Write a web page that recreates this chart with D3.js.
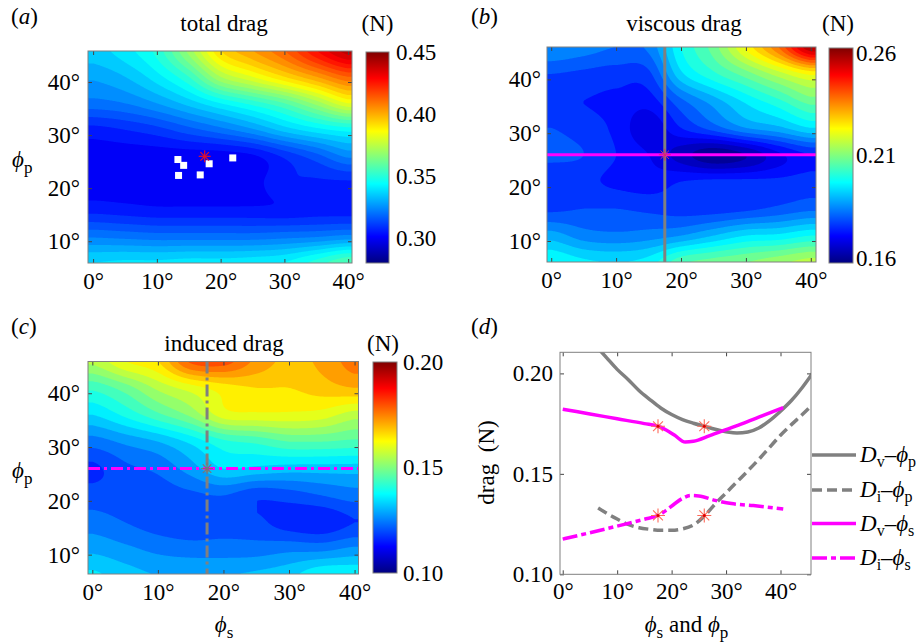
<!DOCTYPE html>
<html><head><meta charset="utf-8">
<script src="https://cdn.jsdelivr.net/npm/d3@7"></script>
<style>body{margin:0;background:#fff}</style>
</head><body>
<svg id="c" width="921" height="644"></svg>
<script>
// ---------------- DATA ----------------
const phiS = [0,5,10,15,20,25,30,35,40];          // columns
const phiP = [6,11,16,21,26,31,36,41,46];         // rows (bottom -> top)
const totalDrag = [
  [0.340,0.341,0.341,0.342,0.342,0.343,0.345,0.352,0.360],
  [0.324,0.323,0.322,0.322,0.322,0.322,0.323,0.324,0.326],
  [0.308,0.307,0.306,0.306,0.306,0.306,0.306,0.307,0.307],
  [0.302,0.302,0.302,0.302,0.302,0.303,0.309,0.309,0.309],
  [0.302,0.302,0.302,0.302,0.302,0.304,0.311,0.318,0.326],
  [0.308,0.310,0.313,0.318,0.323,0.329,0.337,0.343,0.347],
  [0.323,0.325,0.330,0.337,0.345,0.352,0.360,0.372,0.385],
  [0.331,0.335,0.343,0.355,0.375,0.385,0.395,0.405,0.415],
  [0.338,0.343,0.352,0.372,0.395,0.405,0.415,0.430,0.443]
];
const viscousDrag = [
  [0.200,0.197,0.196,0.198,0.207,0.210,0.212,0.215,0.218],
  [0.190,0.186,0.185,0.186,0.188,0.192,0.196,0.197,0.200],
  [0.179,0.180,0.180,0.179,0.178,0.178,0.179,0.181,0.183],
  [0.177,0.177,0.175,0.174,0.176,0.177,0.177,0.177,0.178],
  [0.181,0.180,0.176,0.172,0.166,0.161,0.164,0.171,0.176],
  [0.180,0.178,0.175,0.169,0.176,0.182,0.188,0.191,0.196],
  [0.176,0.176,0.175,0.174,0.183,0.190,0.197,0.203,0.210],
  [0.180,0.179,0.178,0.179,0.195,0.203,0.210,0.218,0.225],
  [0.188,0.186,0.184,0.185,0.200,0.210,0.225,0.240,0.260]
];
const inducedDrag = [
  [0.137,0.134,0.132,0.132,0.132,0.133,0.135,0.140,0.140],
  [0.131,0.129,0.127,0.126,0.126,0.126,0.127,0.127,0.129],
  [0.126,0.124,0.122,0.121,0.122,0.121,0.118,0.117,0.120],
  [0.122,0.122,0.122,0.123,0.124,0.121,0.122,0.124,0.126],
  [0.119,0.123,0.125,0.130,0.136,0.135,0.134,0.134,0.134],
  [0.126,0.129,0.132,0.137,0.143,0.145,0.148,0.148,0.147],
  [0.136,0.141,0.147,0.153,0.162,0.163,0.163,0.162,0.158],
  [0.145,0.150,0.157,0.162,0.166,0.168,0.168,0.170,0.172],
  [0.157,0.164,0.168,0.181,0.182,0.175,0.171,0.173,0.178]
];
const optS = [13.3,14.2,18.2,21.9,13.4,16.8];   // white squares (phi_s)
const optP = [25.4,24.3,24.6,25.7,22.4,22.5];   // white squares (phi_p)
const bestS = 17.5, bestP = 26;

const xTicksDeg = [0,10,20,30,40];
const yTicksDeg = [10,20,30,40];
const cbTicksA = [0.30,0.35,0.40,0.45];
const cbTicksB = [0.16,0.21,0.26];
const cbTicksC = [0.10,0.15,0.20];
const dragTicks = [0.10,0.15,0.20];

const dvPphi = [6,8,10,12,14,16,18,20,22,24,26,28,30,32,34,36,38,40,42,44,46];
const dvP    = [0.214,0.208,0.202,0.197,0.1915,0.187,0.1828,0.1795,0.177,0.1752,0.1737,0.1722,0.171,0.1703,0.1708,0.1728,0.1765,0.1812,0.1865,0.193,0.2005];
const diPphi = [6.5,8,10,12,14,16,18,20,22,24,26,28,30,32,34,36,38,40,42,44,46];
const diP    = [0.133,0.1305,0.1275,0.1248,0.1232,0.1224,0.1219,0.1219,0.1226,0.1245,0.129,0.135,0.1405,0.146,0.1515,0.1572,0.1632,0.1692,0.1745,0.1795,0.1848];
const dvSphi = [0,5,10,15,17.5,19,20.5,22.5,24,27,30,33,36,40.5];
const dvS    = [0.1822,0.1798,0.1774,0.175,0.1737,0.1718,0.1693,0.1658,0.1662,0.169,0.172,0.175,0.1782,0.183];
const diSphi = [0,5,10,15,17.5,19,20.5,22,23.5,25,28,31,35,40.5];
const diS    = [0.1175,0.1207,0.124,0.1274,0.1293,0.1318,0.135,0.1378,0.1392,0.139,0.1368,0.1352,0.1342,0.1325];
const starPhi = [17.5,26];
const starDv = 0.1737, starDi = 0.1293;

// ---------------- HELPERS ----------------
const FONT = "'Liberation Serif','Times New Roman',serif";
const FS = 23, FSUB = 17;
const GREY = "#808080", MAG = "#ff00ff";
const svg = d3.select("#c");
const defs = svg.append("defs");
const cl = v => Math.max(0, Math.min(1, v));
function jet(t){
  t = cl(t);
  return d3.rgb(255*cl(1.5-Math.abs(4*t-3)), 255*cl(1.5-Math.abs(4*t-2)), 255*cl(1.5-Math.abs(4*t-1))).toString();
}
function cr(p0,p1,p2,p3,t){
  return 0.5*((2*p1)+(-p0+p2)*t+(2*p0-5*p1+4*p2-p3)*t*t+(-p0+3*p1-3*p2+p3)*t*t*t);
}
function sampleGrid(grid, fx, fy){
  const nR = grid.length, nC = grid[0].length;
  fx = Math.max(0, Math.min(nC-1, fx)); fy = Math.max(0, Math.min(nR-1, fy));
  const ix = Math.min(nC-2, Math.floor(fx)), iy = Math.min(nR-2, Math.floor(fy));
  const tx = fx-ix, ty = fy-iy;
  const cx = k => Math.max(0, Math.min(nC-1, k)), cy = k => Math.max(0, Math.min(nR-1, k));
  const rv = r => cr(grid[r][cx(ix-1)], grid[r][ix], grid[r][ix+1], grid[r][cx(ix+2)], tx);
  const v = cr(rv(cy(iy-1)), rv(iy), rv(iy+1), rv(cy(iy+2)), ty);
  const c4 = [grid[iy][ix], grid[iy][ix+1], grid[iy+1][ix], grid[iy+1][ix+1]];
  return Math.max(d3.min(c4), Math.min(d3.max(c4), v));
}
function txt(x, y, s, opt={}){
  return svg.append("text").attr("x",x).attr("y",y).attr("font-family",FONT)
    .attr("font-size",opt.size||FS).attr("text-anchor",opt.anchor||"start").attr("fill","#000").text(s);
}
function panelLabel(x,y,letter){
  const t = txt(x,y,"(");
  t.append("tspan").attr("font-style","italic").text(letter);
  t.append("tspan").text(")");
}
function phiLabel(x,y,sub,anchor){
  const t = svg.append("text").attr("x",x).attr("y",y).attr("font-family",FONT).attr("font-size",FS)
    .attr("text-anchor",anchor||"start");
  t.append("tspan").attr("font-style","italic").text("\u03D5");
  t.append("tspan").attr("font-size",FSUB).attr("dy",6).text(sub);
  return t;
}
function star(g, cx, cy, r, color, w){
  for (let k=0;k<4;k++){
    const a = k*Math.PI/4;
    g.append("line").attr("x1",cx-r*Math.cos(a)).attr("y1",cy-r*Math.sin(a))
      .attr("x2",cx+r*Math.cos(a)).attr("y2",cy+r*Math.sin(a))
      .attr("stroke",color).attr("stroke-width",w);
  }
}
function styleAxis(g){
  g.select(".domain").remove();
  g.selectAll(".tick line").attr("stroke","#444");
  g.selectAll("text").attr("font-family",FONT).attr("font-size",FS).attr("fill","#000");
}
let clipId = 0;
function clip(left,top,w,h){
  const id = "clip"+(clipId++);
  defs.append("clipPath").attr("id",id).append("rect").attr("x",left).attr("y",top).attr("width",w).attr("height",h);
  return `url(#${id})`;
}
// jet gradient for colour bars
const grad = defs.append("linearGradient").attr("id","jetg").attr("x1",0).attr("y1",1).attr("x2",0).attr("y2",0);
[0,0.125,0.375,0.625,0.875,1].forEach(o => grad.append("stop").attr("offset",o).attr("stop-color",jet(o)));

function heatPanel(cfg){
  const {left, top, w, h, xDom, yDom, grid, cMin, cMax, lv0, step} = cfg;
  const x = d3.scaleLinear().domain(xDom).range([left, left+w]);
  const y = d3.scaleLinear().domain(yDom).range([top+h, top]);
  const nx = Math.round(w), ny = Math.round(h);
  const vals = new Float64Array(nx*ny);
  for (let j=0;j<ny;j++) for (let i=0;i<nx;i++){
    const s = x.invert(left + (i+0.5)*w/nx), p = y.invert(top + (j+0.5)*h/ny);
    vals[j*nx+i] = sampleGrid(grid, (s-phiS[0])/(phiS[1]-phiS[0]), (p-phiP[0])/(phiP[1]-phiP[0]));
  }
  const levels = d3.range(lv0, cMax+1e-9, step);
  const contours = d3.contours().size([nx,ny]).thresholds(levels)(vals);
  const proj = d3.geoTransform({point(px,py){ this.stream.point(left+px*w/nx, top+py*h/ny); }});
  const path = d3.geoPath(proj);
  const g = svg.append("g").attr("clip-path", clip(left,top,w,h));
  g.append("rect").attr("x",left).attr("y",top).attr("width",w).attr("height",h)
    .attr("fill", jet((lv0-step-cMin)/(cMax-cMin)));
  g.selectAll("path").data(contours).join("path").attr("d",path)
    .attr("fill", d => jet((d.value-cMin)/(cMax-cMin)));
  // axes
  styleAxis(svg.append("g").attr("transform",`translate(0,${top+h})`)
    .call(d3.axisBottom(x).tickValues(xTicksDeg).tickSize(-4).tickPadding(10).tickFormat(d=>d+"°")));
  styleAxis(svg.append("g").attr("transform",`translate(${left},0)`)
    .call(d3.axisLeft(y).tickValues(yTicksDeg).tickSize(-4).tickPadding(cfg.yPad).tickFormat(d=>d+"°")));
  styleAxis(svg.append("g").attr("transform",`translate(0,${top})`)
    .call(d3.axisTop(x).tickValues(xTicksDeg).tickSize(-4).tickFormat("")));
  styleAxis(svg.append("g").attr("transform",`translate(${left+w},0)`)
    .call(d3.axisRight(y).tickValues(yTicksDeg).tickSize(-4).tickFormat("")));
  svg.append("rect").attr("x",left).attr("y",top).attr("width",w).attr("height",h)
    .attr("fill","none").attr("stroke",GREY).attr("stroke-width",1);
  // colour bar
  const cb = cfg.cb;
  svg.append("rect").attr("x",cb.x).attr("y",cb.y).attr("width",cb.w).attr("height",cb.h)
    .attr("fill","url(#jetg)").attr("stroke",GREY).attr("stroke-width",1);
  const cs = d3.scaleLinear().domain([cMin,cMax]).range([cb.y+cb.h, cb.y]);
  styleAxis(svg.append("g").attr("transform",`translate(${cb.x+cb.w},0)`)
    .call(d3.axisRight(cs).tickValues(cb.ticks).tickSize(0).tickPadding(cb.pad).tickFormat(d3.format(".2f"))));
  return {x, y, g};
}

// ---------------- PANEL A ----------------
const A = heatPanel({left:88, top:51, w:264, h:212, xDom:[-0.8,40.6], yDom:[5.9,45.85],
  grid: totalDrag, cMin:0.28, cMax:0.45, lv0:0.28, step:0.005, yPad:8,
  cb:{x:366, y:52, w:23, h:211, ticks:cbTicksA, pad:7}});
optS.forEach((s,i) => svg.append("rect").attr("x",A.x(s)-3.5).attr("y",A.y(optP[i])-3.5)
  .attr("width",7).attr("height",7).attr("fill","#fff"));
star(svg, A.x(bestS), A.y(bestP), 6, "#e0102a", 1.2);
panelLabel(11,24,"a");
txt(224,31,"total drag",{anchor:"middle"});
txt(377.5,31,"(N)",{anchor:"middle"});
phiLabel(12,167,"p");

// ---------------- PANEL B ----------------
const B = heatPanel({left:547, top:47, w:269, h:215, xDom:[-0.65,40.8], yDom:[6.1,46],
  grid: viscousDrag, cMin:0.1575, cMax:0.2625, lv0:0.160, step:0.004, yPad:6,
  cb:{x:829, y:48, w:24, h:215, ticks:cbTicksB, pad:3}});
B.g.append("line").attr("x1",B.x(bestS)).attr("x2",B.x(bestS)).attr("y1",47).attr("y2",262)
  .attr("stroke",GREY).attr("stroke-width",3);
B.g.append("line").attr("x1",547).attr("x2",816).attr("y1",B.y(bestP)).attr("y2",B.y(bestP))
  .attr("stroke",MAG).attr("stroke-width",3);
star(B.g, B.x(bestS), B.y(bestP), 6, "#d0306a", 1);
panelLabel(471,24,"b");
txt(684,31,"viscous drag",{anchor:"middle"});
txt(838,31,"(N)",{anchor:"middle"});

// ---------------- PANEL C ----------------
const C = heatPanel({left:88, top:361.5, w:270.5, h:212.5, xDom:[-0.66,40.6], yDom:[6.4,45.9],
  grid: inducedDrag, cMin:0.10, cMax:0.20, lv0:0.100, step:0.004, yPad:8,
  cb:{x:373, y:362, w:24, h:211, ticks:cbTicksC, pad:6}});
C.g.append("line").attr("x1",C.x(bestS)).attr("x2",C.x(bestS)).attr("y1",361.5).attr("y2",574)
  .attr("stroke",GREY).attr("stroke-width",3).attr("stroke-dasharray","12,4,3,4");
C.g.append("line").attr("x1",88).attr("x2",358.5).attr("y1",C.y(bestP)).attr("y2",C.y(bestP))
  .attr("stroke",MAG).attr("stroke-width",3).attr("stroke-dasharray","12,4,3,4");
star(C.g, C.x(bestS), C.y(bestP), 6, "#777", 1.2);
panelLabel(11,334,"c");
txt(224,351,"induced drag",{anchor:"middle"});
txt(383,351,"(N)",{anchor:"middle"});
phiLabel(12,478,"p");
phiLabel(224,632,"s","middle");

// ---------------- PANEL D ----------------
const dl = 560, dt = 352.3, dw = 251, dh = 222;
const xd = d3.scaleLinear().domain([-0.5,45.6]).range([dl, dl+dw]);
const yd = d3.scaleLinear().domain([0.1,0.2105]).range([574.3, dt]);
const gd = svg.append("g").attr("clip-path", clip(dl,dt,dw,dh));
const line = d3.line().curve(d3.curveMonotoneX);
const series = [
  {phi:dvPphi, v:dvP, color:GREY, dash:null},
  {phi:diPphi, v:diP, color:GREY, dash:"10,5"},
  {phi:dvSphi, v:dvS, color:MAG, dash:null},
  {phi:diSphi, v:diS, color:MAG, dash:"15,4,5,4"}
];
series.forEach(s => {
  gd.append("path").attr("d", line(s.phi.map((p,i)=>[xd(p), yd(s.v[i])])))
    .attr("fill","none").attr("stroke",s.color).attr("stroke-width",3.5)
    .attr("stroke-dasharray",s.dash);
});
starPhi.forEach(p => {
  star(gd, xd(p), yd(starDv), 7, "#ff6a5a", 1.1);
  star(gd, xd(p), yd(starDi), 7, "#ff6a5a", 1.1);
  gd.append("circle").attr("cx",xd(p)).attr("cy",yd(starDv)).attr("r",1.5).attr("fill","#d00");
  gd.append("circle").attr("cx",xd(p)).attr("cy",yd(starDi)).attr("r",1.5).attr("fill","#d00");
});
styleAxis(svg.append("g").attr("transform",`translate(0,574.3)`)
  .call(d3.axisBottom(xd).tickValues(xTicksDeg).tickSize(-4).tickPadding(8).tickFormat(d=>d+"°")));
styleAxis(svg.append("g").attr("transform",`translate(${dl},0)`)
  .call(d3.axisLeft(yd).tickValues(dragTicks).tickSize(-4).tickPadding(7).tickFormat(d3.format(".2f"))));
styleAxis(svg.append("g").attr("transform",`translate(0,${dt})`)
  .call(d3.axisTop(xd).tickValues(xTicksDeg).tickSize(-4).tickFormat("")));
styleAxis(svg.append("g").attr("transform",`translate(${dl+dw},0)`)
  .call(d3.axisRight(yd).tickValues(dragTicks).tickSize(-4).tickFormat("")));
svg.append("rect").attr("x",dl).attr("y",dt).attr("width",dw).attr("height",574.3-dt)
  .attr("fill","none").attr("stroke",GREY).attr("stroke-width",1);
panelLabel(471,334,"d");
svg.append("text").attr("transform","translate(494,462.5) rotate(-90)").attr("text-anchor","middle")
  .attr("font-family",FONT).attr("font-size",FS).attr("xml:space","preserve").style("white-space","pre")
  .text("drag  (N)");
{
  const t = svg.append("text").attr("x",686.5).attr("y",632).attr("font-family",FONT).attr("font-size",FS)
    .attr("text-anchor","middle");
  t.append("tspan").attr("font-style","italic").text("\u03D5");
  t.append("tspan").attr("font-size",FSUB).attr("dy",6).text("s");
  t.append("tspan").attr("dy",-6).text(" and ");
  t.append("tspan").attr("font-style","italic").text("\u03D5");
  t.append("tspan").attr("font-size",FSUB).attr("dy",6).text("p");
}
// legend
const legRows = [455, 490, 523.5, 558];
const legSub1 = ["v","i","v","i"], legSub2 = ["p","p","s","s"];
series.forEach((s,i) => {
  const yy = legRows[i];
  svg.append("line").attr("x1",812).attr("x2",856).attr("y1",yy).attr("y2",yy)
    .attr("stroke",s.color).attr("stroke-width",3.5).attr("stroke-dasharray",s.dash);
  const t = svg.append("text").attr("x",860).attr("y",yy+7).attr("font-family",FONT).attr("font-size",FS);
  t.append("tspan").attr("font-style","italic").text("D");
  t.append("tspan").attr("font-size",16).attr("dy",5).text(legSub1[i]);
  t.append("tspan").attr("dy",-5).text("\u2013");
  t.append("tspan").attr("font-style","italic").text("\u03D5");
  t.append("tspan").attr("font-size",16).attr("dy",5).text(legSub2[i]);
});
</script>
</body></html>
